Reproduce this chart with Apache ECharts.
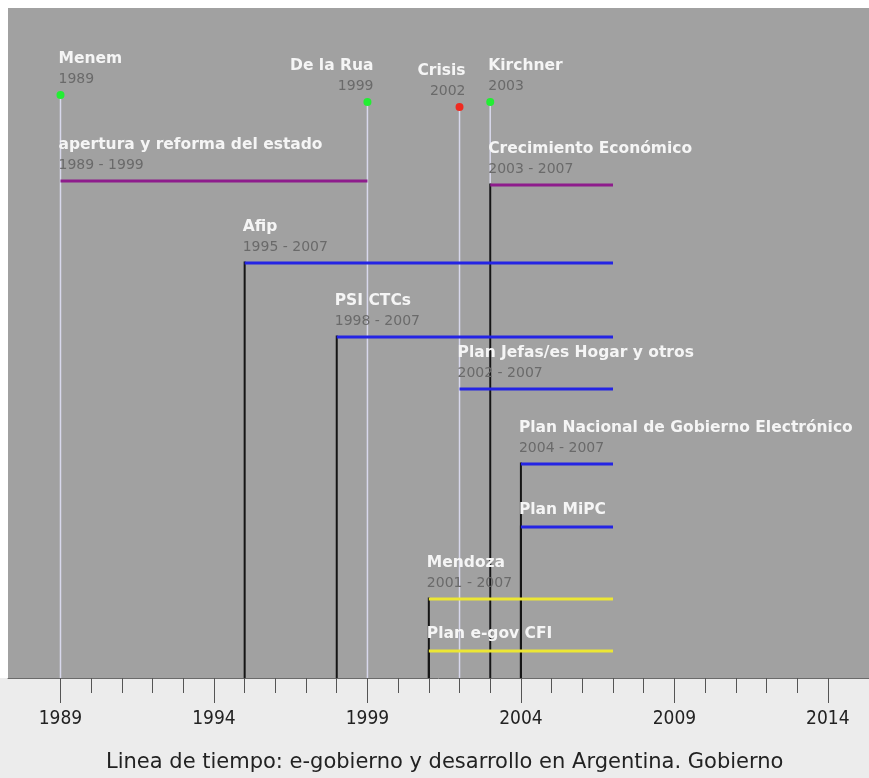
<!DOCTYPE html>
<html><head><meta charset="utf-8">
<script src="https://cdn.jsdelivr.net/npm/echarts@6/dist/echarts.min.js"></script>
<style>
html,body{margin:0;padding:0;background:#fff;}
#c{width:869px;height:778px;background:linear-gradient(to bottom,#ffffff 0,#ffffff 678px,#ececec 678px,#ececec 100%);}
</style>
</head><body><div id="c"></div>
<script>
// ---- data ----
const majorTickYears = [1989, 1994, 1999, 2004, 2009, 2014];
const minorTickYears = [1989, 1990, 1991, 1992, 1993, 1994, 1995, 1996, 1997, 1998, 1999, 2000, 2001, 2002,
  2003, 2004, 2005, 2006, 2007, 2008, 2009, 2010, 2011, 2012, 2013, 2014];

const eventNames = ['Menem', 'De la Rua', 'Crisis', 'Kirchner'];
const eventYears = [1989, 1999, 2002, 2003];
const eventLanes = [583, 576, 571, 576];
const eventKinds = ['gobierno', 'gobierno', 'crisis', 'gobierno'];
const eventLabelSide = ['left', 'right', 'right', 'left'];

const periodNames = ['apertura y reforma del estado', 'Crecimiento Económico', 'Afip', 'PSI CTCs',
  'Plan Jefas/es Hogar y otros', 'Plan Nacional de Gobierno Electrónico', 'Plan MiPC', 'Mendoza', 'Plan e-gov CFI'];
const periodStart = [1989, 2003, 1995, 1998, 2002, 2004, 2004, 2001, 2001];
const periodEnd = [1999, 2007, 2007, 2007, 2007, 2007, 2007, 2007, 2007];
const periodLanes = [497, 493, 415, 341, 289, 214, 151, 79, 27];
const periodKinds = ['politica', 'politica', 'programa', 'programa', 'programa', 'programa', 'programa', 'provincial', 'provincial'];
const periodShowDates = [true, true, true, true, true, true, false, true, false];
const periodStartLine = [false, true, true, true, false, true, true, true, true];

const chartTitle = 'Linea de tiempo: e-gobierno y desarrollo en Argentina. Gobierno';

// ---- styles ----
const kindColor = { politica: '#8e1c8c', programa: '#2424e4', provincial: '#ece634' };
const eventColor = { gobierno: '#22ee33', crisis: '#f02a20' };
const TITLE_FONT = 'bold 15.5px "DejaVu Sans"';
const DATE_FONT = '14px "DejaVu Sans"';

const periodData = periodNames.map((n, i) => [periodStart[i], periodEnd[i], periodLanes[i], i]);
const eventData = eventNames.map((n, i) => [eventYears[i], eventLanes[i], i]);

const chart = echarts.init(document.getElementById('c'), null, { renderer: 'canvas' });

const option = {
  backgroundColor: 'transparent',
  animation: false,
  title: {
    text: chartTitle,
    left: 101,
    top: 747,
    textStyle: { fontFamily: '"DejaVu Sans"', fontSize: 21, fontWeight: 'normal', color: '#222' }
  },
  grid: { left: 8, right: 0, top: 8, bottom: 100, show: true, backgroundColor: '#a1a1a1', borderWidth: 0 },
  xAxis: [
    {
      type: 'value', min: 1987.29, max: 2015.34, position: 'bottom',
      splitLine: { show: false },
      axisLine: { show: true, onZero: false, lineStyle: { color: '#6a6a6a', width: 1 } },
      axisTick: { show: true, customValues: majorTickYears, length: 25, lineStyle: { color: '#555', width: 1 } },
      axisLabel: { customValues: majorTickYears, margin: 32, fontSize: 19, fontFamily: '"DejaVu Sans Condensed"', color: '#222', formatter: v => String(v) }
    },
    {
      type: 'value', min: 1987.29, max: 2015.34, position: 'bottom',
      splitLine: { show: false },
      axisLine: { show: false, onZero: false },
      axisTick: { show: true, customValues: minorTickYears, length: 15, lineStyle: { color: '#555', width: 1 } },
      axisLabel: { show: false }
    }
  ],
  yAxis: { type: 'value', min: 0, max: 670, show: false },
  series: [
    { // event vertical lines
      type: 'custom', z: 1, xAxisIndex: 0, data: eventData, encode: { x: 0, y: 1 },
      renderItem: (params, api) => {
        const s = api.coord([api.value(0), api.value(1)]);
        const b = api.coord([api.value(0), 0]);
        return { type: 'line', shape: { x1: s[0], y1: s[1], x2: b[0], y2: b[1] }, style: { stroke: '#d8d8ec', lineWidth: 1.5 } };
      }
    },
    { // black start lines of periods
      type: 'custom', z: 2, xAxisIndex: 0, data: periodData, encode: { x: [0, 1], y: 2 },
      renderItem: (params, api) => {
        const i = api.value(3);
        if (!periodStartLine[i]) return null;
        const s = api.coord([api.value(0), api.value(2)]);
        const b = api.coord([api.value(0), 0]);
        return { type: 'line', shape: { x1: s[0], y1: s[1] - 1.5, x2: b[0], y2: b[1] }, style: { stroke: '#151515', lineWidth: 2 } };
      }
    },
    { // period bars
      type: 'custom', z: 3, xAxisIndex: 0, data: periodData, encode: { x: [0, 1], y: 2 },
      renderItem: (params, api) => {
        const i = api.value(3);
        const s = api.coord([api.value(0), api.value(2)]);
        const e = api.coord([api.value(1), api.value(2)]);
        return { type: 'line', shape: { x1: s[0], y1: s[1], x2: e[0], y2: e[1] }, style: { stroke: kindColor[periodKinds[i]], lineWidth: 3 } };
      }
    },
    { // event dots
      type: 'custom', z: 4, xAxisIndex: 0, data: eventData, encode: { x: 0, y: 1 },
      renderItem: (params, api) => {
        const i = api.value(2);
        const s = api.coord([api.value(0), api.value(1)]);
        return { type: 'circle', shape: { cx: s[0], cy: s[1], r: 4 }, style: { fill: eventColor[eventKinds[i]] } };
      }
    },
    { // period labels
      type: 'custom', z: 5, xAxisIndex: 0, data: periodData, encode: { x: [0, 1], y: 2 },
      renderItem: (params, api) => {
        const i = api.value(3);
        const s = api.coord([api.value(0), api.value(2)]);
        const children = [];
        const x = s[0] - 2;
        if (periodShowDates[i]) {
          children.push({ type: 'text', x: x, y: s[1] - 36, style: { text: periodNames[i], fill: '#f5f5f5', font: TITLE_FONT, align: 'left', verticalAlign: 'middle' } });
          children.push({ type: 'text', x: x, y: s[1] - 16, style: { text: periodStart[i] + ' - ' + periodEnd[i], fill: '#6a6a6a', font: DATE_FONT, align: 'left', verticalAlign: 'middle' } });
        } else {
          children.push({ type: 'text', x: x, y: s[1] - 17, style: { text: periodNames[i], fill: '#f5f5f5', font: TITLE_FONT, align: 'left', verticalAlign: 'middle' } });
        }
        return { type: 'group', children: children };
      }
    },
    { // event labels
      type: 'custom', z: 5, xAxisIndex: 0, data: eventData, encode: { x: 0, y: 1 },
      renderItem: (params, api) => {
        const i = api.value(2);
        const s = api.coord([api.value(0), api.value(1)]);
        const side = eventLabelSide[i];
        const x = side === 'left' ? s[0] - 2 : s[0] + 6;
        return { type: 'group', children: [
          { type: 'text', x: x, y: s[1] - 36, style: { text: eventNames[i], fill: '#f5f5f5', font: TITLE_FONT, align: side, verticalAlign: 'middle' } },
          { type: 'text', x: x, y: s[1] - 16, style: { text: String(eventYears[i]), fill: '#6a6a6a', font: DATE_FONT, align: side, verticalAlign: 'middle' } }
        ] };
      }
    }
  ]
};
chart.setOption(option);
</script>
</body></html>
